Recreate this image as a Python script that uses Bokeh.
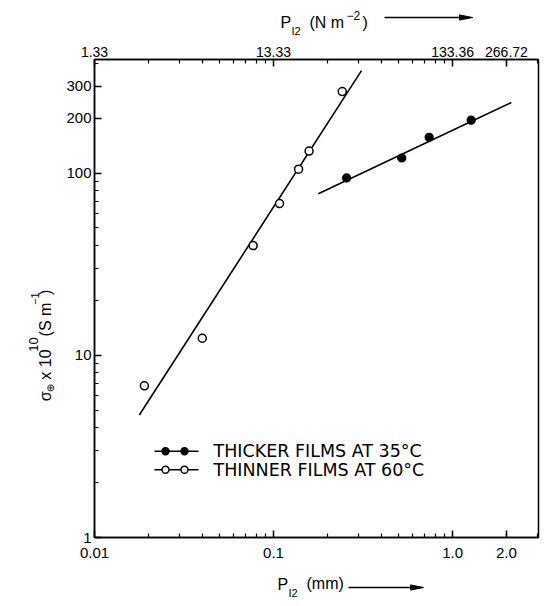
import numpy as np
from bokeh.plotting import figure
from bokeh.layouts import column, row
from bokeh.models import LogAxis, FixedTicker, Range1d, Label
from bokeh.embed import file_html
from bokeh.resources import INLINE

# ---------------- data ----------------
open_x = [0.019, 0.040, 0.077, 0.108, 0.138, 0.158, 0.242]
open_y = [6.8, 12.4, 40.0, 68.0, 105.0, 132.0, 280.0]
filled_x = [0.256, 0.52, 0.74, 1.27]
filled_y = [94.0, 121.0, 157.0, 195.0]
fit_open_x = [0.0178, 0.31]
fit_open_y = [4.7, 365.0]
fit_filled_x = [0.178, 2.13]
fit_filled_y = [77.0, 244.0]

x_ticks = [0.01, 0.1, 1.0, 2.0]
x_tick_labels = ["0.01", "0.1", "1.0", "2.0"]
top_tick_labels = ["1.33", "13.33", "133.36", "266.72"]
y_ticks = [1, 10, 100, 200, 300]
y_tick_labels = ["1", "10", "100", "200", "300"]
legend_labels = ["THICKER FILMS AT 35°C", "THINNER FILMS AT 60°C"]

X_RANGE = (0.01, 3.02)
Y_RANGE = (1.0, 420.0)

# ---------------- page layout (pixels) ----------------
W, H = 540, 600
TOP_H, BOT_H, LEFT_W = 38, 32, 56
MID_H = H - TOP_H - BOT_H
PW = W - LEFT_W
ML, MR, MT, MB = 38, 2, 21, 31
FW, FH = PW - ML - MR, MID_H - MT - MB
FRAME_LEFT = LEFT_W + ML          # page x of frame left
FRAME_BOTTOM = TOP_H + MT + FH    # page y of frame bottom


def dx(px):
    lo, hi = np.log10(X_RANGE)
    return 10 ** (lo + (px - FRAME_LEFT) / FW * (hi - lo))


def dy(py):
    lo, hi = np.log10(Y_RANGE)
    return 10 ** (lo + (FRAME_BOTTOM - py) / FH * (hi - lo))


p = figure(width=PW, height=MID_H, x_axis_type="log", y_axis_type="log",
           x_range=Range1d(*X_RANGE), y_range=Range1d(*Y_RANGE),
           output_backend="svg", toolbar_location=None,
           min_border_left=ML, min_border_right=MR,
           min_border_top=MT, min_border_bottom=MB)
p.grid.visible = False
p.outline_line_color = "black"
p.outline_line_width = 1.5
p.background_fill_color = "white"
p.border_fill_color = "white"

x_minor = [m * d for d in (0.01, 0.1, 1.0) for m in range(2, 10)]
y_minor = [m * d for d in (1, 10, 100) for m in range(2, 10)]

top = LogAxis()
p.add_layout(top, "above")
bottom = p.below[0]
left = p.left[0]


def style_axis(ax, size):
    ax.axis_line_color = "black"
    ax.axis_line_width = 1.5
    ax.major_tick_line_color = "black"
    ax.major_tick_line_width = 1.5
    ax.minor_tick_line_color = "black"
    ax.minor_tick_line_width = 1.2
    ax.major_tick_in = 7
    ax.major_tick_out = 0
    ax.minor_tick_in = 4
    ax.minor_tick_out = 0
    ax.major_label_text_font = "Liberation Sans"
    ax.major_label_text_font_size = f"{size}px"
    ax.major_label_text_color = "black"


for ax in (bottom, top):
    ax.ticker = FixedTicker(ticks=x_ticks, minor_ticks=x_minor)
style_axis(bottom, 15)
style_axis(top, 14)
bottom.major_label_overrides = dict(zip(x_ticks, x_tick_labels))
top.major_label_overrides = dict(zip(x_ticks, top_tick_labels))
bottom.major_label_standoff = 10
top.major_label_standoff = 3

left.ticker = FixedTicker(ticks=y_ticks, minor_ticks=y_minor)
style_axis(left, 15)
left.major_label_overrides = dict(zip([float(t) for t in y_ticks], y_tick_labels))
left.major_label_standoff = 3

# ---------------- data marks ----------------
p.line(fit_open_x, fit_open_y, line_color="black", line_width=1.6)
p.line(fit_filled_x, fit_filled_y, line_color="black", line_width=1.6)
p.scatter(open_x, open_y, marker="circle", size=8, fill_color="white",
          line_color="black", line_width=1.5)
p.scatter(filled_x, filled_y, marker="circle", size=8, fill_color="black",
          line_color="black", line_width=1.2)

# ---------------- legend (drawn by hand) ----------------
for i, (lab, fill) in enumerate(zip(legend_labels, ["black", "white"])):
    py = 450.7 + i * 18.6
    p.line([dx(154), dx(198)], [dy(py), dy(py)], line_color="black", line_width=1.5)
    p.scatter([dx(165), dx(184)], [dy(py), dy(py)], marker="circle", size=7,
              fill_color=fill, line_color="black", line_width=1.4)
    p.add_layout(Label(x=dx(213), y=dy(py), text=lab, text_font="DejaVu Sans",
                       text_font_size="17.5px", text_baseline="middle",
                       text_align="left", text_color="black"))


# ---------------- title strips (page-pixel coordinates) ----------------
def strip(w, h, x0, y0):
    f = figure(width=w, height=h, x_range=Range1d(x0, x0 + w),
               y_range=Range1d(y0 + h, y0), output_backend="svg",
               toolbar_location=None, x_axis_location=None, y_axis_location=None,
               min_border=0, outline_line_color=None)
    f.grid.visible = False
    f.background_fill_color = "white"
    f.border_fill_color = "white"
    return f


def txt(f, px, py, s, size, angle=0.0, font="Liberation Sans"):
    f.add_layout(Label(x=px, y=py, text=s, text_font=font,
                       text_font_size=f"{size}px", angle=angle,
                       text_align="left", text_baseline="alphabetic",
                       text_color="black"))


def arrow(f, x0, x1, yy):
    f.line([x0, x1 - 8], [yy, yy], line_color="black", line_width=1.5)
    f.patch([x1 - 13, x1, x1 - 13], [yy - 2.6, yy, yy + 2.6],
            fill_color="black", line_color="black", line_width=1)


top_fig = strip(W, TOP_H, 0, 0)
txt(top_fig, 280, 22, "P", 16)
txt(top_fig, 291, 30, "I2", 11)
txt(top_fig, 309, 22, "(N m", 16)
txt(top_fig, 346, 15, "−2", 12)
txt(top_fig, 362, 22, ")", 16)
arrow(top_fig, 384, 472, 17)

bot_fig = strip(W, BOT_H, 0, TOP_H + MID_H)
txt(bot_fig, 277, 584, "P", 16)
txt(bot_fig, 288, 592, "I2", 11)
txt(bot_fig, 306, 583, "(mm)", 16)
arrow(bot_fig, 348, 423, 587)

left_fig = strip(LEFT_W, MID_H, 0, TOP_H)
R = np.pi / 2
txt(left_fig, 45, 417, "σ", 16, angle=R)
txt(left_fig, 50, 407, "⊕", 10, angle=R, font="DejaVu Sans")
txt(left_fig, 45, 393, "x 10", 16, angle=R)
txt(left_fig, 33, 362, "10", 13, angle=R)
txt(left_fig, 45, 345, "(S m", 16, angle=R)
txt(left_fig, 34, 310, "−1", 11, angle=R)
txt(left_fig, 45, 299, ")", 16, angle=R)

layout = column(top_fig, row(left_fig, p, spacing=0), bot_fig, spacing=0)

open("out.html", "w").write(file_html(layout, INLINE))
